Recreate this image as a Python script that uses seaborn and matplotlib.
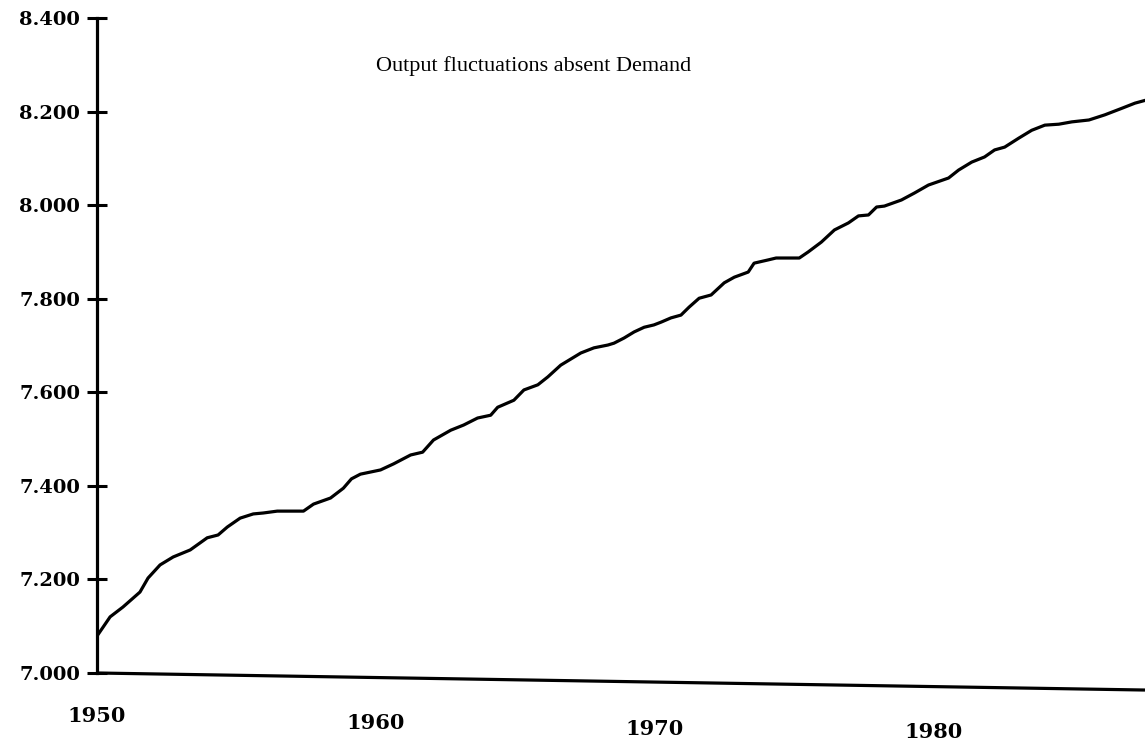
import numpy as np
import pandas as pd
import seaborn as sns
import matplotlib.pyplot as plt

# values (log output, quarterly-ish readings)
years = [1950.00, 1950.47, 1950.93, 1951.54, 1951.83, 1952.26, 1952.73, 1953.34,
         1953.95, 1954.34, 1954.67, 1955.13, 1955.60, 1955.96, 1956.46, 1957.40,
         1957.76, 1958.37, 1958.83, 1959.12, 1959.44, 1960.16, 1960.63, 1961.24,
         1961.67, 1962.06, 1962.68, 1963.14, 1963.64, 1964.11, 1964.36, 1964.94,
         1965.30, 1965.80, 1966.16, 1966.62, 1966.98, 1967.34, 1967.81, 1968.31,
         1968.53, 1968.89, 1969.25, 1969.61, 1969.96, 1970.22, 1970.57, 1970.93,
         1971.22, 1971.58, 1972.01, 1972.48, 1972.84, 1973.34, 1973.55, 1974.06,
         1974.34, 1975.17, 1975.49, 1975.96, 1976.43, 1976.93, 1977.29, 1977.65,
         1977.94, 1978.22, 1978.83, 1979.30, 1979.80, 1980.52, 1980.88, 1981.35,
         1981.81, 1982.17, 1982.53, 1983.03, 1983.50, 1983.97, 1984.47, 1984.94,
         1985.55, 1986.12, 1986.73, 1987.20, 1987.63]
output = [7.079, 7.120, 7.141, 7.173, 7.203, 7.231, 7.248, 7.263,
          7.289, 7.295, 7.312, 7.331, 7.340, 7.342, 7.346, 7.346,
          7.361, 7.374, 7.395, 7.415, 7.425, 7.434, 7.447, 7.466,
          7.472, 7.498, 7.519, 7.530, 7.545, 7.551, 7.568, 7.583,
          7.605, 7.616, 7.633, 7.658, 7.671, 7.684, 7.695, 7.701,
          7.705, 7.716, 7.729, 7.739, 7.744, 7.750, 7.759, 7.765,
          7.782, 7.801, 7.808, 7.834, 7.846, 7.857, 7.876, 7.883,
          7.887, 7.887, 7.900, 7.921, 7.947, 7.962, 7.977, 7.979,
          7.996, 7.998, 8.011, 8.026, 8.043, 8.058, 8.075, 8.092,
          8.103, 8.118, 8.124, 8.143, 8.160, 8.171, 8.173, 8.178,
          8.182, 8.193, 8.207, 8.218, 8.225]

x_ticks = [1950, 1960, 1970, 1980]
y_ticks = [7.0, 7.2, 7.4, 7.6, 7.8, 8.0, 8.2, 8.4]
title = "Output fluctuations absent Demand"

df = pd.DataFrame({"year": years, "output": output})

sns.set_theme(style="white")
plt.rcParams["font.family"] = ["DejaVu Serif", "DejaVu Sans"]
plt.rcParams["text.color"] = "black"

fig = plt.figure(figsize=(11.45, 7.47), dpi=100)
ax = fig.add_axes([97 / 1145, 74 / 747, 1048 / 1145, 655 / 747])

sns.lineplot(data=df, x="year", y="output", ax=ax, color="black", lw=2.3,
             estimator=None, sort=True)

ax.set_xlim(1950, 1987.56)
ax.set_ylim(7.0, 8.4)
ax.set_xlabel("")
ax.set_ylabel("")

ax.set_yticks(y_ticks)
ax.set_yticklabels([f"{v:.3f}" for v in y_ticks], fontsize=14, fontweight="bold")
ax.tick_params(axis="y", direction="inout", length=15, width=2.2, pad=4.5,
               colors="black", left=True)

ax.set_xticks(x_ticks)
ax.set_xticklabels([str(v) for v in x_ticks], fontsize=15, fontweight="bold")
ax.tick_params(axis="x", length=0, colors="black")
# scanned page is a little skewed: labels drift downward to the right
for t, pad in zip(ax.xaxis.get_major_ticks(), [24, 28.8, 32.8, 35]):
    t.set_pad(pad)

for s in ["top", "right", "bottom"]:
    ax.spines[s].set_visible(False)
ax.spines["left"].set_linewidth(2.3)
ax.spines["left"].set_color("black")
# skewed baseline of the scan
ax.plot([0, 1], [0, -0.026], transform=ax.transAxes, color="black",
        lw=2.3, clip_on=False, solid_capstyle="butt")

fig.text(534 / 1145, 1 - 66 / 747, title, ha="center", va="center",
         fontsize=16, color="black", family=["Liberation Serif", "DejaVu Serif"])

plt.savefig("out.png", dpi=100)
plt.close()
